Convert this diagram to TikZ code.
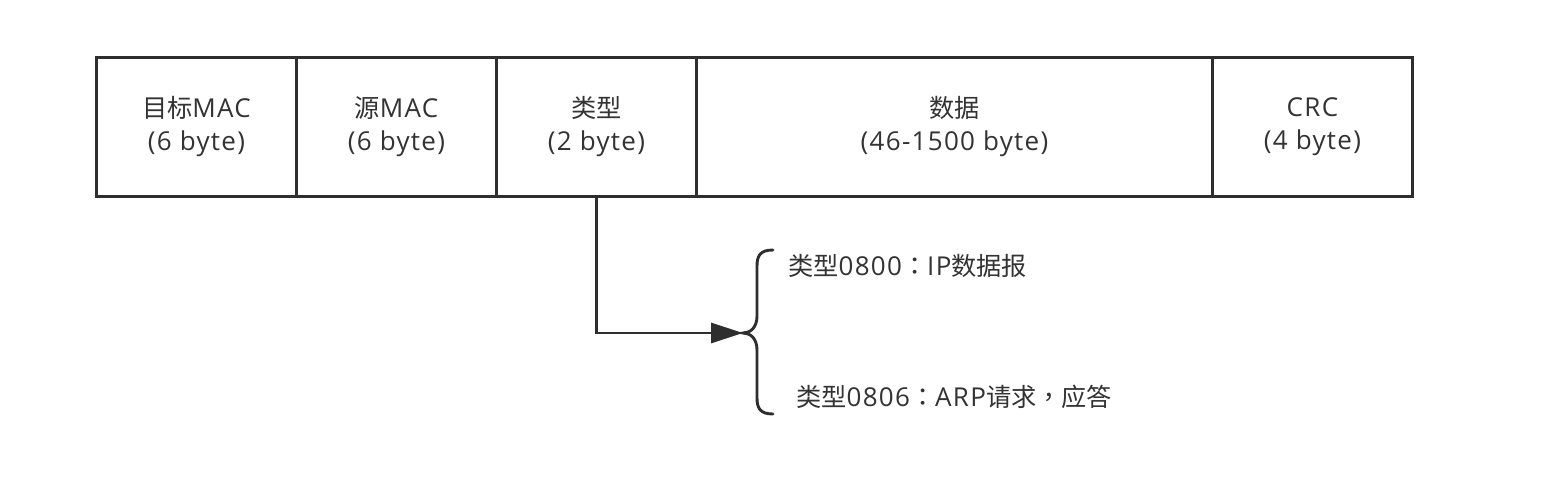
\documentclass[tikz,border=0pt]{standalone}
\usepackage{fontspec}
\setmainfont[LetterSpace=5]{Open Sans}
\newfontfamily\cjk[Scale=0.97]{Noto Sans CJK SC}
\newfontfamily\cjkp[Scale=0.97]{Noto Sans CJK TC}
\newcommand\zhtxt[1]{{\cjk #1}}
\newcommand\zhpun[1]{{\cjkp #1}}
\usetikzlibrary{arrows.meta}
\definecolor{ln}{HTML}{2E2E2E}
\definecolor{tx}{HTML}{333333}
\begin{document}
\begin{tikzpicture}[x=1bp,y=-1bp,
  field/.style={draw=ln,line width=2.9bp,minimum height=139bp,inner sep=0pt,
    anchor=north west,align=center,text=tx,font=\fontsize{26bp}{33bp}\selectfont},
  lbl/.style={anchor=west,inner sep=0pt,text=tx,font=\fontsize{26bp}{30bp}\selectfont},
  conn/.style={draw=ln,line width=2.9bp}]
\useasboundingbox (0,0) rectangle (1552,495);
\node[field,minimum width=200bp] (dst) at (95,56) {\zhtxt{目标}MAC\\(6 byte)};
\node[field,minimum width=200bp] (src) at (295,56) {\zhtxt{源}MAC\\(6 byte)};
\node[field,minimum width=200bp] (typ) at (495,56) {\zhtxt{类型}\\(2 byte)};
\node[field,minimum width=516bp] (dat) at (695,56) {\zhtxt{数据}\\(46-1500 byte)};
\node[field,minimum width=200bp] (crc) at (1211,56) {CRC\\(4 byte)};
\coordinate (tip) at (743,333);
\coordinate (btop) at (773,250);
\coordinate (bbot) at (773,414);
\draw[conn,-{Triangle[length=32bp,width=20bp]}] (typ.south) |- (tip);
\draw[conn,line cap=round] (btop) .. controls (760,250) and (757,256) .. (757,266)
  -- (757,316) .. controls (757,328) and (750,333) .. (tip)
  .. controls (750,333) and (757,338) .. (757,350)
  -- (757,398) .. controls (757,408) and (760,414) .. (bbot);
\node[lbl] (ip) at (788,266) {\zhtxt{类型}0800\zhpun{：}IP\zhtxt{数据报}};
\node[lbl] (arp) at (796,397) {\zhtxt{类型}0806\zhpun{：}ARP\zhtxt{请求}\zhpun{，}\zhtxt{应答}};
\end{tikzpicture}
\end{document}
